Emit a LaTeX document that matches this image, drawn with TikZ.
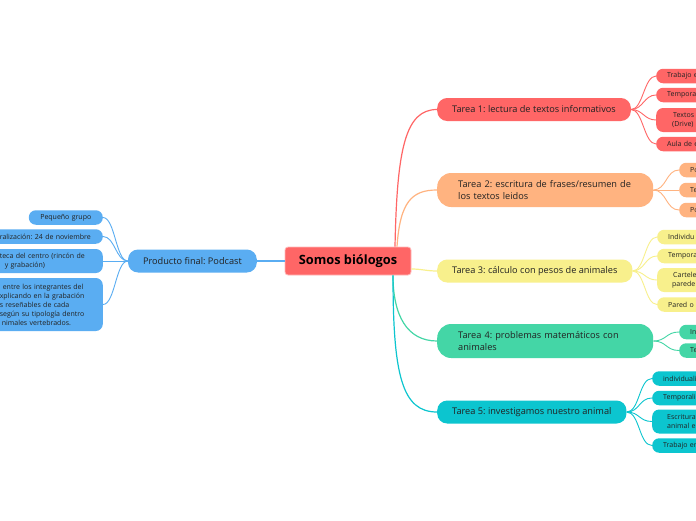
\documentclass[tikz,border=0pt]{standalone}
\usepackage{fontspec}
\setmainfont{Open Sans}
\usepackage{tikz}

\definecolor{rojo}{HTML}{FF6666}
\definecolor{naranja}{HTML}{FFB380}
\definecolor{amarillo}{HTML}{F8F08C}
\definecolor{verde}{HTML}{44D6A6}
\definecolor{cian}{HTML}{0CC5CF}
\definecolor{azul}{HTML}{5AADF2}
\definecolor{texto}{HTML}{222222}

\begin{document}
\frenchspacing
\begin{tikzpicture}[x=1pt, y=-1pt,
    central/.style={fill=rojo, draw=rojo!45!white, line width=0.8pt, rounded corners=3pt,
      minimum height=28pt, minimum width=126pt, font=\fontsize{12.8}{14}\selectfont\bfseries, text=black},
    tarea/.style={fill=#1, rounded corners=10pt, anchor=west, inner xsep=15pt, minimum height=23pt,
      font=\fontsize{9.2}{12}\selectfont, text=texto},
    tareados/.style={tarea=#1, rounded corners=14pt, text width=174pt, align=left, inner xsep=21pt, minimum height=34pt},
    hoja/.style={fill=#1, rounded corners=7pt, anchor=west, inner xsep=11pt, minimum height=14.5pt,
      text width=60pt, align=left, font=\fontsize{7}{9.5}\selectfont, text=texto},
    hojaizq/.style={hoja=#1, anchor=east, text width=92pt},
    rama/.style={draw=#1, line width=1.2pt},
    hilo/.style={draw=#1, line width=0.9pt}]
    \useasboundingbox (0,0) rectangle (696,520);
    \fill[white] (0,0) rectangle (696,520);
    \clip (0,0) rectangle (696,520);

    % centro y ramas principales
    \node[central] (raiz) at (348,261) {Somos biólogos};
    \node[tarea=rojo] (t1) at (437,109.5) {Tarea 1: lectura de textos informativos};
    \node[tareados=naranja] (t2) at (437,190) {Tarea 2: escritura de frases/resumen de\\los textos leidos};
    \node[tarea=amarillo] (t3) at (437,271) {Tarea 3: cálculo con pesos de animales};
    \node[tareados=verde] (t4) at (437,341) {Tarea 4: problemas matemáticos con\\animales};
    \node[tarea=cian] (t5) at (437,412) {Tarea 5: investigamos nuestro animal};
    \node[tarea=azul, anchor=east] (pf) at (257,261) {Producto final: Podcast};

    \draw[rama=rojo] ([xshift=47pt]raiz.north) .. controls +(2,-97) and +(-32,0) .. (t1.west);
    \draw[rama=naranja] ([xshift=49pt]raiz.north) .. controls +(3,-45) and +(-25,0) .. (t2.west);
    \draw[rama=amarillo] ([yshift=-8pt]raiz.east) .. controls +(10,0) and +(-10,0) .. (t3.west);
    \draw[rama=verde] ([xshift=45pt]raiz.south) .. controls +(0,40) and +(-30,0) .. (t4.west);
    \draw[rama=cian] ([xshift=45pt]raiz.south) .. controls +(0,100) and +(-35,0) .. (t5.west);
    \draw[rama=azul] (raiz.west) -- (pf.east);

    % hojas tarea 1
    \node[hoja=rojo] (h11) at (656,76) {Trabajo e};
    \node[hoja=rojo] (h12) at (656,95) {Tempora};
    \node[hoja=rojo, minimum height=24pt] (h13) at (656,120) {\hspace*{6pt}Textos s\\\hspace*{5pt}(Drive)};
    \node[hoja=rojo] (h14) at (656,144) {Aula de e};
    % hojas tarea 2
    \node[hoja=naranja] (h21) at (679,170) {Po};
    \node[hoja=naranja] (h22) at (679,190) {Te};
    \node[hoja=naranja] (h23) at (679,210) {Po};
    % hojas tarea 3
    \node[hoja=amarillo] (h31) at (657,237) {Individu};
    \node[hoja=amarillo] (h32) at (657,256) {Tempora};
    \node[hoja=amarillo, minimum height=24pt] (h33) at (657,280) {\hspace*{5pt}Cartele\\\hspace*{4pt}parede};
    \node[hoja=amarillo] (h34) at (657,304.5) {Pared o};
    % hojas tarea 4
    \node[hoja=verde] (h41) at (679,332) {In};
    \node[hoja=verde] (h42) at (679,350.5) {Te};
    % hojas tarea 5
    \node[hoja=cian] (h51) at (652,378.5) {individuali};
    \node[hoja=cian] (h52) at (652,398) {Temporali};
    \node[hoja=cian, minimum height=24pt] (h53) at (652,421.5) {\hspace*{4pt}Escritura\\\hspace*{4pt}animal e};
    \node[hoja=cian] (h54) at (652,445.5) {Trabajo en};
    % hojas producto final
    \node[hojaizq=azul, text width=52pt, align=center] (p1) at (103,217.5) {Pequeño grupo};
    \node[hojaizq=azul] (p2) at (103,236.5) {ralización: 24 de noviembre};
    \node[hojaizq=azul, minimum height=24pt] (p3) at (103,261) {teca del centro (rincón de\\\hspace*{5pt}y grabación)};
    \node[hojaizq=azul, minimum height=53pt, font=\fontsize{7}{9}\selectfont] (p4) at (103,304.5) {\hspace*{3pt}entre los integrantes del\\xplicando en la grabación\\s reseñables de cada\\según su tipología dentro\\\hspace*{2pt}nimales vertebrados.};

    \foreach \h in {h11,h12,h13,h14}
      \draw[hilo=rojo] (t1.east) .. controls +(12,0) and +(-12,0) .. (\h.west);
    \foreach \h in {h21,h22,h23}
      \draw[hilo=naranja] (t2.east) .. controls +(13,0) and +(-13,0) .. (\h.west);
    \foreach \h in {h31,h32,h33,h34}
      \draw[hilo=amarillo] (t3.east) .. controls +(12,0) and +(-12,0) .. (\h.west);
    \foreach \h in {h41,h42}
      \draw[hilo=verde] (t4.east) .. controls +(13,0) and +(-13,0) .. (\h.west);
    \foreach \h in {h51,h52,h53,h54}
      \draw[hilo=cian] (t5.east) .. controls +(13,0) and +(-13,0) .. (\h.west);
    \foreach \p in {p1,p2,p3,p4}
      \draw[hilo=azul] (pf.west) .. controls +(-12,0) and +(12,0) .. (\p.east);
\end{tikzpicture}
\end{document}
